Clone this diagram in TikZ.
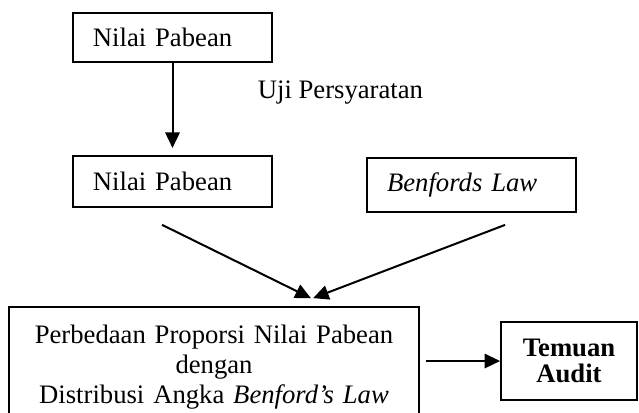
\documentclass[tikz,border=0pt]{standalone}
\usepackage{fontspec}
\setmainfont{Liberation Serif}
\usetikzlibrary{arrows.meta}

\begin{document}
\begin{tikzpicture}[
  x=0.45pt, y=-0.45pt,
  every node/.style={font=\fontsize{12}{13.6}\selectfont},
  box/.style={draw, line width=0.8pt, inner xsep=9pt, inner ysep=0pt,
    align=left},
  endbox/.style={draw, line width=0.8pt, inner sep=0pt, align=center,
    font=\fontsize{12}{11.5}\selectfont\bfseries},
  arr/.style={-{Triangle[length=7pt,width=6.5pt]}, line width=0.9pt}
]
  \useasboundingbox (0,0) rectangle (639,412);
  \clip (0,0) rectangle (639,412);

  \node[box, text width=71.6pt, minimum height=22pt]  (nilai1)  at (172.5,37.5) {Nilai Pabean};
  \node[anchor=base west] (uji) at (250,98) {Uji Persyaratan};
  \node[box, text width=71.6pt, minimum height=23pt]  (nilai2)  at (172.5,181.5) {Nilai Pabean};
  \node[box, text width=76pt, minimum height=24.3pt]  (benford) at (471.5,185) {\textit{Benfords Law}};
  \node[box, align=center, text width=166.5pt, minimum height=54pt] (beda) at (214,367)
    {Perbedaan Proporsi Nilai Pabean\\dengan\\Distribusi Angka \textit{Benford's Law}};
  \node[endbox, minimum width=61.2pt, minimum height=35.1pt] (temuan) at (569,361) {Temuan\\Audit};

  \draw[arr] (nilai1) -- ([yshift=3.2pt]nilai2.north);
  \draw[arr] ([xshift=-4.7pt,yshift=-7.6pt]nilai2.south) -- ([xshift=43.6pt,yshift=3.6pt]beda.north);
  \draw[arr] ([xshift=15.1pt,yshift=-5.4pt]benford.south) -- ([xshift=44.6pt,yshift=3.6pt]beda.north);
  \draw[arr] ([xshift=2.7pt]beda.east |- temuan.west) -- (temuan.west);
\end{tikzpicture}
\end{document}
